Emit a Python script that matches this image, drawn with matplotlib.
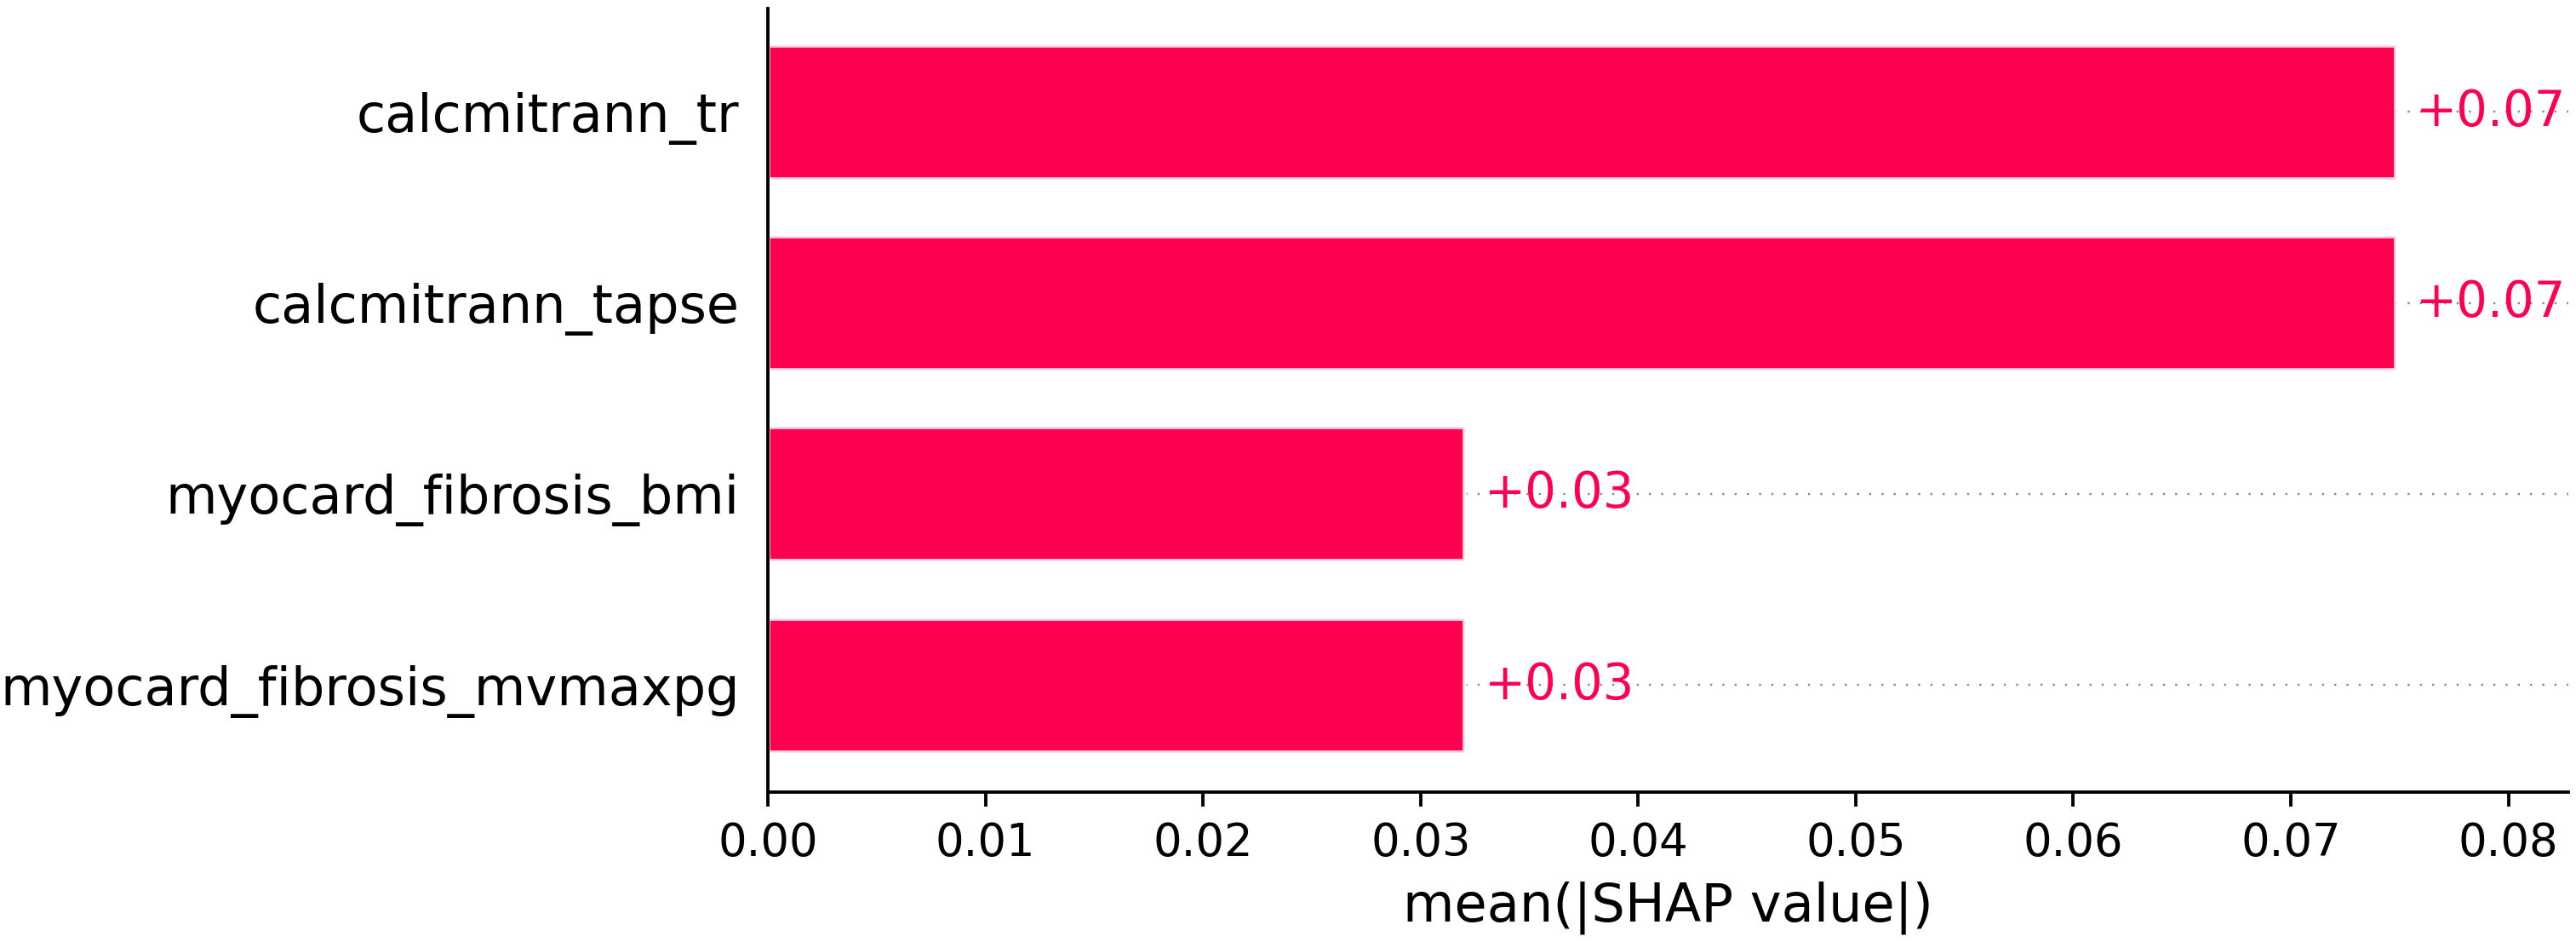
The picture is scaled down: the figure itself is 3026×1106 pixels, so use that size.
import matplotlib
matplotlib.use("Agg")
import matplotlib.pyplot as plt
import numpy as np

# data (top to bottom)
features = ["calcmitrann_tr", "calcmitrann_tapse",
            "myocard_fibrosis_bmi", "myocard_fibrosis_mvmaxpg"]
mean_abs_shap = [0.0748, 0.0748, 0.0320, 0.0320]
xticks = [0.00, 0.01, 0.02, 0.03, 0.04, 0.05, 0.06, 0.07, 0.08]

red = (1.0, 0.0, 0.31764705882)

dpi = 345
fig = plt.figure(figsize=(3026 / dpi, 1106 / dpi), dpi=dpi)
ax = fig.add_axes([0.2981, 0.1591, 0.997 - 0.2981, 0.991 - 0.1591])

y_pos = np.arange(len(features), 0, -1)

# dotted guide lines behind the bars
for y in y_pos:
    ax.axhline(y, color="#888888", lw=0.5, dashes=(1, 5), zorder=-1)

ax.barh(y_pos, mean_abs_shap, 0.7, align="center", color=red,
        edgecolor=(1, 1, 1, 0.8))

# value labels at bar ends
for y, v in zip(y_pos, mean_abs_shap):
    ax.annotate("%+0.02f" % v, xy=(v, y), xytext=(5, 0), textcoords="offset points",
                ha="left", va="center", color=red, fontsize=12)

ax.set_yticks(y_pos)
ax.set_yticklabels(features, fontsize=13)
ax.yaxis.set_ticks_position("none")
ax.xaxis.set_ticks_position("bottom")
ax.set_xticks(xticks)
ax.set_xticklabels(["%.2f" % t for t in xticks], fontsize=11)
ax.set_xlabel("mean(|SHAP value|)", fontsize=13)

ax.spines["right"].set_visible(False)
ax.spines["top"].set_visible(False)

ax.set_xlim(0, 0.08275)
ax.set_ylim(0.438, 4.542)

fig.savefig("out.png", dpi=dpi)
